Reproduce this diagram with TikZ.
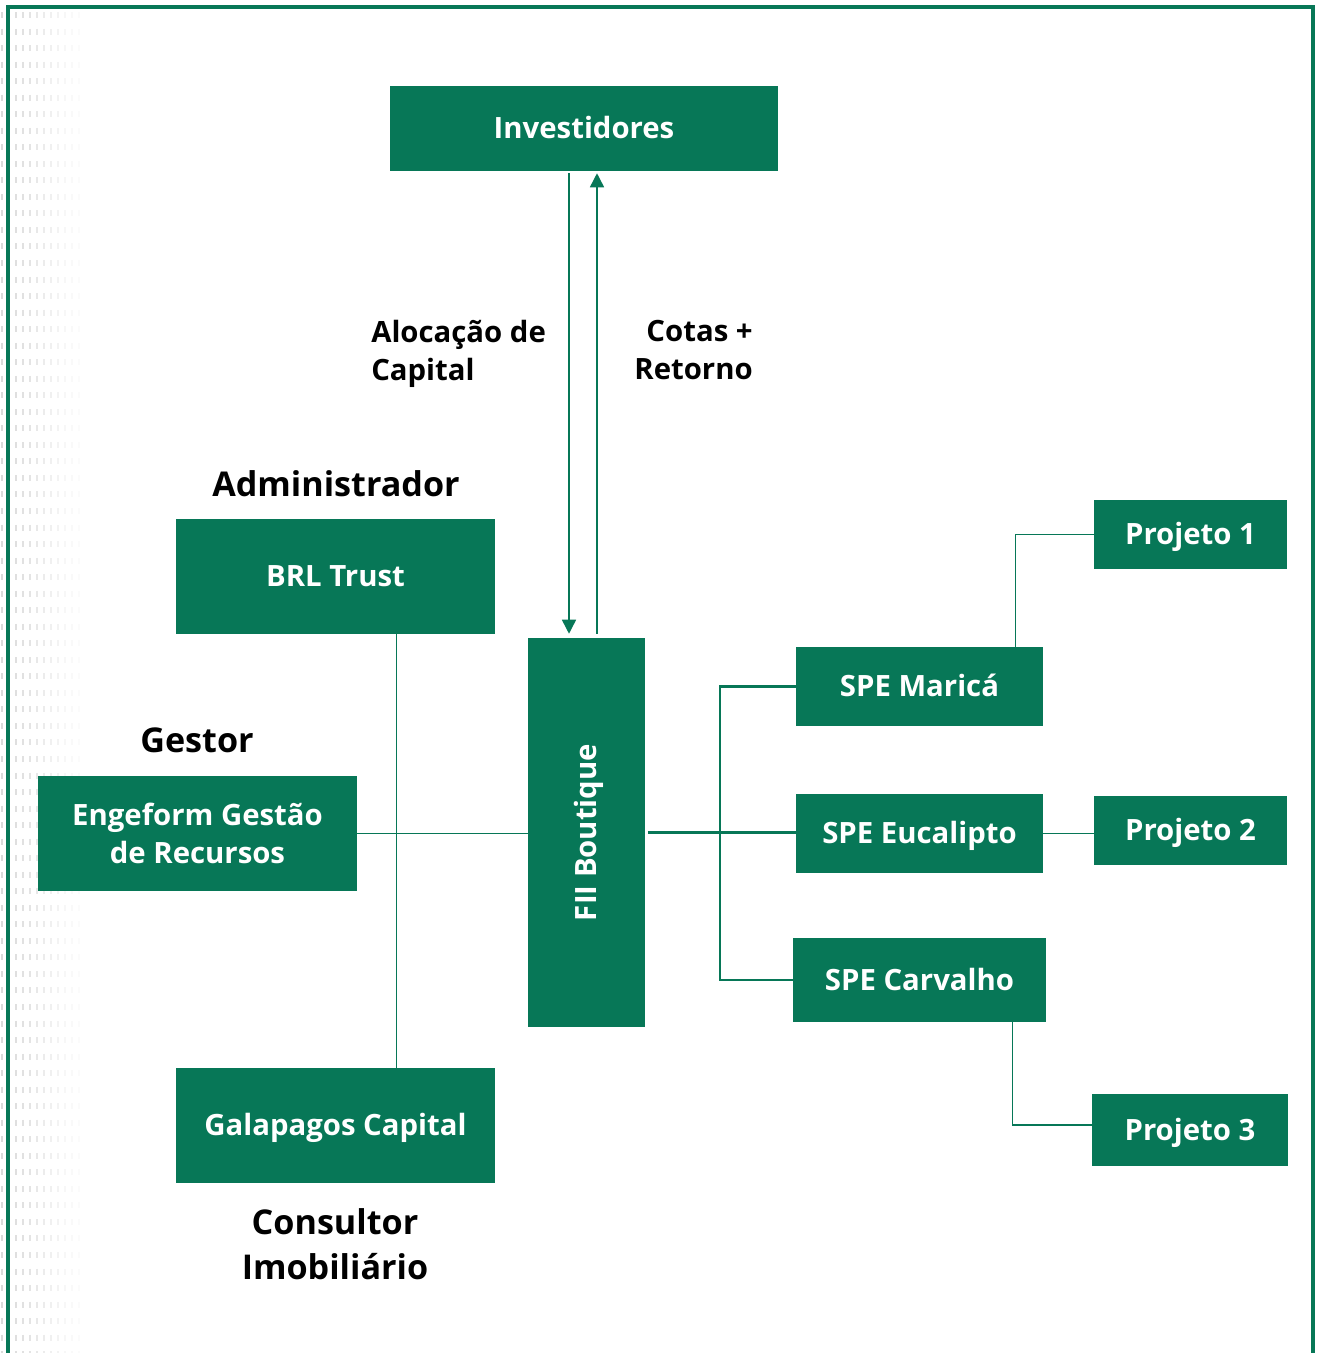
\documentclass[tikz,border=0pt]{standalone}
\usepackage{fontspec}
\setmainfont{Open Sans}
\usetikzlibrary{arrows.meta,calc}
\definecolor{grn}{HTML}{077757}
\begin{document}
\begin{tikzpicture}[x=0.75pt,y=-0.75pt,
  boxfont/.style={font=\fontsize{22pt}{28.5pt}\selectfont\bfseries},
  box/.style={fill=grn,text=white,inner sep=0pt,align=center,boxfont},
  one/.style={text height=15.7pt,text depth=0pt},
  lbl/.style={text=black,inner sep=0pt,font=\fontsize{22pt}{28.5pt}\selectfont\bfseries},
  biglbl/.style={text=black,inner sep=0pt,align=center,font=\fontsize{25.6pt}{33.75pt}\selectfont\bfseries},
  conn/.style={draw=grn,line width=1.1pt},
  thick conn/.style={draw=grn,line width=1.8pt},
  tip/.style={-{Triangle[width=10.5pt,length=10.5pt]}}]
\useasboundingbox (0,0) rectangle (1322,1353);
% faint decorative stripes at left edge
\foreach \i/\o in {0/0.32,1/0.30,2/0.28,3/0.26,4/0.23,5/0.20,6/0.17,7/0.13,8/0.10,9/0.07,10/0.05,11/0.03}{
  \draw[black!45,opacity=\o,line width=2.2pt,dash pattern=on 4.5pt off 7.9pt] (2+7*\i,12) -- (2+7*\i,1353);
}
% frame
\draw[grn,line width=3pt] (8,1353) -- (8,7) -- (1313,7) -- (1313,1353);

% nodes
\node[box,one,minimum width=388*0.75pt,minimum height=85*0.75pt] (inv) at (584,128.5) {Investidores};
\node[box,one,minimum width=319*0.75pt,minimum height=115*0.75pt] (brl) at (335.5,576.5) {BRL Trust};
\node[box,minimum width=319*0.75pt,minimum height=115*0.75pt] (eng) at (197.5,833.5) {Engeform Gestão\\de Recursos};
\node[box,one,minimum width=319*0.75pt,minimum height=115*0.75pt] (gal) at (335.5,1125.5) {Galapagos Capital};
\node[box,minimum width=117*0.75pt,minimum height=389*0.75pt] (fii) at (586.5,832.5) {};
\node[text=white,inner sep=0pt,rotate=90,boxfont,one] (fiit) at (fii.center) {FII Boutique};
\node[box,one,minimum width=247*0.75pt,minimum height=79*0.75pt] (mar) at (919.5,686.5) {SPE Maricá};
\node[box,one,minimum width=247*0.75pt,minimum height=79*0.75pt] (euc) at (919.5,833.5) {SPE Eucalipto};
\node[box,one,minimum width=253*0.75pt,minimum height=84*0.75pt] (car) at (919.5,980) {SPE Carvalho};
\node[box,one,minimum width=193*0.75pt,minimum height=69*0.75pt] (p1) at (1190.5,534.5) {Projeto 1};
\node[box,one,minimum width=193*0.75pt,minimum height=69*0.75pt] (p2) at (1190.5,830.5) {Projeto 2};
\node[box,one,minimum width=196*0.75pt,minimum height=72*0.75pt] (p3) at (1190,1130) {Projeto 3};

% labels
\node[lbl,anchor=west,align=left] (aloc) at (371,354) {Alocação de\\Capital};
\node[lbl,anchor=east,align=right] (cot) at (753,350) {Cotas +\\Retorno};
\node[biglbl] (adm) at (336,484) {Administrador};
\node[biglbl] (ges) at (197,740) {Gestor};
\node[biglbl] (con) at (335,1244) {Consultor\\Imobiliário};

% connectors
\draw[conn,tip,shorten <=1.5pt,shorten >=3pt] ($(inv.south)+(-15,0)$) -- ($(inv.south |- fii.north)+(-15,0)$);
\draw[conn,tip,shorten <=3pt,shorten >=1.5pt] ($(inv.south |- fii.north)+(13,0)$) -- ($(inv.south)+(13,0)$);
\draw[conn] ($(brl.south)+(61,0)$) -- ($(gal.north)+(61,0)$);
\draw[conn] (eng.east) -- (eng.east -| fii.west);
\draw[thick conn,shorten <=2pt] (fii.east) -- (fii.east -| euc.west);
\draw[thick conn] (mar.west) -- ++(-76,0) |- (car.west);
\draw[conn] ($(mar.north)+(96,0)$) |- (p1.west);
\draw[conn] (euc.east) -- (euc.east -| p2.west);
\draw[conn] ($(car.south)+(93,0)$) |- ($(p3.west)+(0,-5)$);
\end{tikzpicture}
\end{document}
